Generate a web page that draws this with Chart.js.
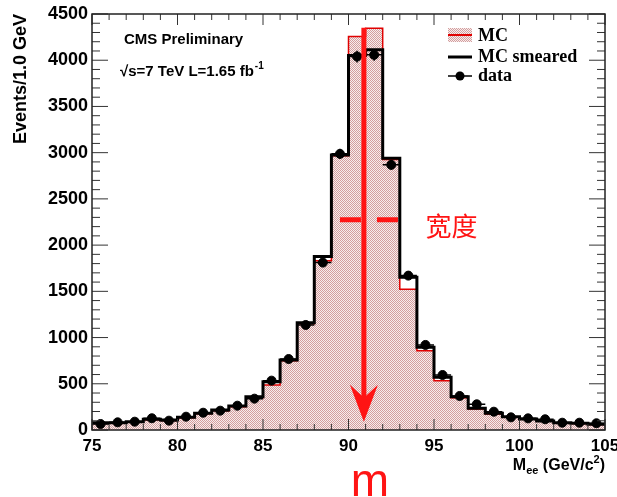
<!DOCTYPE html>
<html lang="en">
<head>
<meta charset="utf-8" />
<title>Mee</title>
<script src="https://cdn.jsdelivr.net/npm/chart.js@4.4.1/dist/chart.umd.min.js"></script>
<style>
  html, body { margin: 0; padding: 0; background: #fff; }
  #wrap { width: 617px; height: 497px; position: relative; }
</style>
</head>
<body>
<div id="wrap"><canvas id="myChart"></canvas></div>
<script>
// 1 GeV bins, low edges
var binLow = [75, 76, 77, 78, 79, 80, 81, 82, 83, 84, 85, 86, 87, 88, 89,
              90, 91, 92, 93, 94, 95, 96, 97, 98, 99, 100, 101, 102, 103, 104];
var binWidth = 1;

var mc        = [75, 77, 86, 112, 104, 132, 175, 208, 252, 350, 487, 750, 1150, 1832, 2966,
                 4257, 4347, 2925, 1523, 858, 534, 350, 228, 172, 138, 115, 95, 78, 70, 60];
var mcSmeared = [79, 79, 90, 116, 108, 137, 180, 216, 260, 361, 523, 758, 1161, 1876, 2976,
                 4051, 4113, 2940, 1653, 895, 570, 361, 235, 180, 144, 119, 97, 79, 73, 62];
var dataCounts = [65, 83, 90, 127, 101, 144, 187, 209, 263, 339, 534, 768, 1136, 1811, 2987,
                  4040, 4058, 2868, 1670, 920, 595, 368, 278, 198, 137, 126, 116, 79, 79, 73];

var xMin = 75, xMax = 105, xStep = 5;
var yMin = 0, yMax = 4500, yStep = 500;

// hand drawn annotation, in data units
var massArrowX = 90.9, massArrowTop = 4350, massArrowTip = 90;
var widthLineY = 2273, widthLineFrom = 89.5, widthLineTo = 92.95;
var widthLabelX = 94.5, widthLabelY = 2210;

// histogram outline points for a stepped line
function steps(vals) {
    var pts = binLow.map(function (x, i) { return { x: x, y: vals[i] }; });
    pts.push({ x: binLow[binLow.length - 1] + binWidth, y: vals[vals.length - 1] });
    return pts;
}

// fine pink dot hatch like ROOT fill style
var pc = document.createElement('canvas');
pc.width = 2; pc.height = 2;
var pctx = pc.getContext('2d');
pctx.fillStyle = '#f7eded'; pctx.fillRect(0, 0, 2, 2);
pctx.fillStyle = '#d49e9e'; pctx.fillRect(0, 0, 1, 1); pctx.fillRect(1, 1, 1, 1);
var hatch = pctx.createPattern(pc, 'repeat');

var SANS = '"Liberation Sans", Arial, sans-serif';
var SERIF = '"Liberation Serif", "Times New Roman", serif';

var decorations = {
    id: 'decorations',
    afterDatasetsDraw: function (chart) {
        var ctx = chart.ctx, a = chart.chartArea;
        var xs = chart.scales.x, ys = chart.scales.y;
        ctx.save();

        // error bars for data
        ctx.strokeStyle = '#000';
        ctx.lineWidth = 1.5;
        ctx.beginPath();
        dataCounts.forEach(function (n, i) {
            var xc = xs.getPixelForValue(binLow[i] + binWidth / 2);
            var y = ys.getPixelForValue(n);
            var x1 = xs.getPixelForValue(binLow[i]), x2 = xs.getPixelForValue(binLow[i] + binWidth);
            var e = Math.sqrt(n);
            ctx.moveTo(x1, y); ctx.lineTo(x2, y);
            ctx.moveTo(xc, ys.getPixelForValue(n - e)); ctx.lineTo(xc, ys.getPixelForValue(n + e));
        });
        ctx.stroke();

        // ticks, inward like ROOT
        ctx.strokeStyle = '#333';
        ctx.lineWidth = 1;
        ctx.beginPath();
        for (var v = yMin; v <= yMax; v += 100) {
            var py = ys.getPixelForValue(v);
            var len = v % yStep === 0 ? 16 : 8;
            ctx.moveTo(a.left, py); ctx.lineTo(a.left + len, py);
            ctx.moveTo(a.right, py); ctx.lineTo(a.right - len, py);
        }
        for (var u = xMin; u <= xMax; u += 1) {
            var px = xs.getPixelForValue(u);
            var l2 = u % xStep === 0 ? 11 : 6;
            ctx.moveTo(px, a.bottom); ctx.lineTo(px, a.bottom - l2);
            ctx.moveTo(px, a.top); ctx.lineTo(px, a.top + l2);
        }
        ctx.stroke();
        ctx.strokeStyle = '#222';
        ctx.lineWidth = 1.5;
        ctx.strokeRect(a.left, a.top, a.right - a.left, a.bottom - a.top);

        // red arrow marking the mass
        var ax = xs.getPixelForValue(massArrowX);
        var aTop = ys.getPixelForValue(massArrowTop);
        var aTip = ys.getPixelForValue(massArrowTip);
        ctx.strokeStyle = '#ff1414';
        ctx.fillStyle = '#ff1414';
        ctx.lineWidth = 5;
        ctx.beginPath();
        ctx.moveTo(ax, aTop); ctx.lineTo(ax, aTip - 20);
        ctx.stroke();
        ctx.beginPath();
        ctx.moveTo(ax, aTip);
        ctx.lineTo(ax - 14, aTip - 37);
        ctx.lineTo(ax, aTip - 24);
        ctx.lineTo(ax + 14, aTip - 37);
        ctx.closePath();
        ctx.fill();

        // red dashed width line
        var wy = ys.getPixelForValue(widthLineY);
        ctx.setLineDash([21, 16]);
        ctx.beginPath();
        ctx.moveTo(xs.getPixelForValue(widthLineFrom), wy);
        ctx.lineTo(xs.getPixelForValue(widthLineTo), wy);
        ctx.stroke();
        ctx.setLineDash([]);

        ctx.font = '26px "Noto Sans CJK SC", sans-serif';
        ctx.textAlign = 'left';
        ctx.textBaseline = 'middle';
        ctx.fillText('宽度', xs.getPixelForValue(widthLabelX), ys.getPixelForValue(widthLabelY));
        ctx.restore();
    },
    afterDraw: function (chart) {
        var ctx = chart.ctx, a = chart.chartArea;
        ctx.save();
        ctx.fillStyle = '#000';
        ctx.textBaseline = 'middle';
        ctx.textAlign = 'left';

        // CMS label
        ctx.font = 'bold 15px ' + SANS;
        ctx.fillText('CMS Preliminary', 124, 40);
        var t = '\u221As=7 TeV L=1.65 fb';
        ctx.fillText(t, 120, 72);
        var tw = ctx.measureText(t).width;
        ctx.font = 'bold 10px ' + SANS;
        ctx.fillText('-1', 120 + tw + 1, 66);

        // legend
        var lx = 448, lw = 24, tx = 478;
        ctx.fillStyle = hatch;
        ctx.fillRect(lx, 28, lw, 14);
        ctx.strokeStyle = '#e00000';
        ctx.lineWidth = 2;
        ctx.beginPath(); ctx.moveTo(lx, 35); ctx.lineTo(lx + lw, 35); ctx.stroke();
        ctx.strokeStyle = '#000';
        ctx.lineWidth = 3;
        ctx.beginPath(); ctx.moveTo(lx, 57); ctx.lineTo(lx + lw, 57); ctx.stroke();
        ctx.lineWidth = 1.5;
        ctx.beginPath(); ctx.moveTo(lx, 76); ctx.lineTo(lx + lw, 76); ctx.stroke();
        ctx.fillStyle = '#000';
        ctx.beginPath(); ctx.arc(lx + lw / 2, 76, 4.5, 0, Math.PI * 2); ctx.fill();
        ctx.font = 'bold 18px ' + SERIF;
        ctx.fillText('MC', tx, 36);
        ctx.fillText('MC smeared', tx, 57);
        ctx.fillText('data', tx, 76);

        // x axis title, right aligned: M_ee (GeV/c^2)
        var big = 'bold 16px ' + SANS, small = 'bold 11px ' + SANS;
        var parts = [['M', big, 0], ['ee', small, 4], [' (GeV/c', big, 0], ['2', small, -7], [')', big, 0]];
        var total = 0;
        parts.forEach(function (p) { ctx.font = p[1]; total += ctx.measureText(p[0]).width; });
        var x = a.right - total;
        ctx.textBaseline = 'alphabetic';
        parts.forEach(function (p) {
            ctx.font = p[1];
            ctx.fillText(p[0], x, 470 + p[2]);
            x += ctx.measureText(p[0]).width;
        });

        // red m under the arrow
        ctx.fillStyle = '#ff1414';
        ctx.font = '46px ' + SANS;
        ctx.textAlign = 'center';
        ctx.fillText('m', chart.scales.x.getPixelForValue(massArrowX) + 6, 496);
        ctx.restore();
    }
};

var ctx = document.getElementById('myChart').getContext('2d');
var myChart = new Chart(ctx, {
    type: 'line',
    data: {
        datasets: [{
            label: 'data',
            data: dataCounts.map(function (n, i) { return { x: binLow[i] + binWidth / 2, y: n }; }),
            showLine: false,
            pointRadius: 4.5,
            pointBackgroundColor: '#000',
            pointBorderColor: '#000',
            order: 0
        }, {
            label: 'MC smeared',
            data: steps(mcSmeared),
            stepped: 'before',
            borderColor: '#000',
            borderWidth: 3,
            pointRadius: 0,
            fill: false,
            order: 1
        }, {
            label: 'MC',
            data: steps(mc),
            stepped: 'before',
            borderColor: '#e00000',
            borderWidth: 1.5,
            backgroundColor: hatch,
            pointRadius: 0,
            fill: 'origin',
            order: 2
        }]
    },
    options: {
        responsive: true,
        maintainAspectRatio: false,
        animation: false,
        layout: { padding: { top: 14, right: 12, left: 0, bottom: 0 } },
        plugins: { legend: { display: false }, tooltip: { enabled: false } },
        scales: {
            x: {
                type: 'linear',
                min: xMin, max: xMax,
                grid: { display: false, drawTicks: false },
                border: { display: false },
                ticks: { stepSize: xStep, padding: 6, color: '#000', font: { family: SANS, size: 17, weight: 'bold' },
                         callback: function (v) { return String(v); } },
                afterFit: function (s) { s.height = 67; s.paddingLeft = 0; s.paddingRight = 0; }
            },
            y: {
                min: yMin, max: yMax,
                grid: { display: false, drawTicks: false },
                border: { display: false },
                ticks: { stepSize: yStep, padding: 4, color: '#000', font: { family: SANS, size: 18, weight: 'bold' },
                         callback: function (v) { return String(v); } },
                title: {
                    display: true, text: 'Events/1.0 GeV', align: 'end', color: '#000',
                    font: { family: SANS, size: 18, weight: 'bold' }, padding: { top: 10, bottom: 0 }
                },
                afterFit: function (s) { s.width = 92; s.paddingTop = 0; s.paddingBottom = 0; }
            }
        }
    },
    plugins: [decorations]
});
</script>
</body>
</html>
